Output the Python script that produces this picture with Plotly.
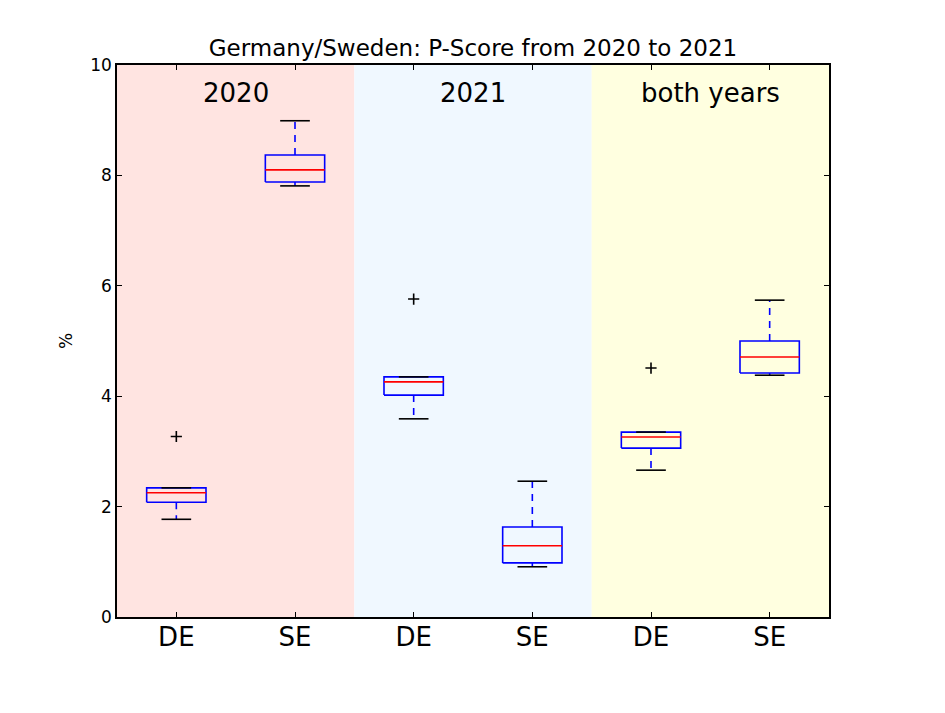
import plotly.graph_objects as go

# ---- data ----
groups = ["2020", "2021", "both years"]
countries = ["DE", "SE", "DE", "SE", "DE", "SE"]
q1 = [2.08, 7.88, 4.02, 0.98, 3.06, 4.42]
median = [2.25, 8.10, 4.26, 1.29, 3.26, 4.71]
q3 = [2.34, 8.37, 4.35, 1.63, 3.35, 5.00]
whisker_low = [1.77, 7.81, 3.59, 0.91, 2.66, 4.38]
whisker_high = [2.34, 8.99, 4.35, 2.46, 3.35, 5.74]
outliers = [[3.27], [], [5.76], [], [4.51], []]
group_colors = ["#FFE4E1", "#F0F8FF", "#FFFFE0"]

positions = list(range(1, len(countries) + 1))
box_half = 0.25
cap_half = 0.125

fig = go.Figure()

for i, p in enumerate(positions):
    # box outline
    fig.add_trace(go.Scatter(
        x=[p - box_half, p + box_half, p + box_half, p - box_half, p - box_half],
        y=[q1[i], q1[i], q3[i], q3[i], q1[i]],
        mode="lines", line=dict(color="#0000FF", width=1.6),
        showlegend=False, hoverinfo="skip"))
    # whiskers (dashed)
    fig.add_trace(go.Scatter(
        x=[p, p, None, p, p],
        y=[q1[i], whisker_low[i], None, q3[i], whisker_high[i]],
        mode="lines", line=dict(color="#0000FF", width=1.6, dash="7px,6px"),
        showlegend=False, hoverinfo="skip"))
    # caps
    fig.add_trace(go.Scatter(
        x=[p - cap_half, p + cap_half, None, p - cap_half, p + cap_half],
        y=[whisker_low[i], whisker_low[i], None, whisker_high[i], whisker_high[i]],
        mode="lines", line=dict(color="#000000", width=1.6),
        showlegend=False, hoverinfo="skip"))
    # median
    fig.add_trace(go.Scatter(
        x=[p - box_half, p + box_half], y=[median[i], median[i]],
        mode="lines", line=dict(color="#FF0000", width=1.6),
        showlegend=False, hoverinfo="skip"))
    # outliers
    if outliers[i]:
        fig.add_trace(go.Scatter(
            x=[p] * len(outliers[i]), y=outliers[i], mode="markers",
            marker=dict(symbol="cross-thin", size=8, color="black",
                        line=dict(color="black", width=1.6)),
            showlegend=False, hoverinfo="skip"))

shapes = []
annotations = []
for g, name in enumerate(groups):
    x0 = positions[2 * g] - 0.5
    x1 = positions[2 * g + 1] + 0.5
    shapes.append(dict(type="rect", xref="x", yref="paper", x0=x0, x1=x1,
                       y0=0, y1=1, fillcolor=group_colors[g], line=dict(width=0),
                       layer="below"))
    annotations.append(dict(x=(x0 + x1) / 2, y=9.5, xref="x", yref="y",
                            text=name, showarrow=False,
                            font=dict(size=26, color="black")))

fig.update_layout(
    width=937, height=705,
    margin=dict(l=109, r=116, t=57, b=96),
    paper_bgcolor="white", plot_bgcolor="white",
    font=dict(family="DejaVu Sans", color="black"),
    title=dict(text="Germany/Sweden: P-Score from 2020 to 2021", x=0.5, xanchor="center",
               xref="paper", yref="container", y=0.943, yanchor="middle",
               font=dict(size=23, color="black")),
    shapes=shapes, annotations=annotations,
    xaxis=dict(range=[0.5, 6.5], tickvals=positions, ticktext=countries,
               ticks="inside", ticklen=5, tickcolor="black", mirror="allticks",
               showline=True, linecolor="black", linewidth=1.5, showgrid=False,
               zeroline=False, tickfont=dict(size=26), ticklabelstandoff=-4),
    yaxis=dict(range=[0, 10], tickvals=[0, 2, 4, 6, 8, 10],
               ticks="inside", ticklen=5, tickcolor="black", mirror="allticks",
               showline=True, linecolor="black", linewidth=1.5, showgrid=False,
               zeroline=False, tickfont=dict(size=17),
               title=dict(text="%", font=dict(size=17), standoff=13)),
)

fig.write_html("out.html")
